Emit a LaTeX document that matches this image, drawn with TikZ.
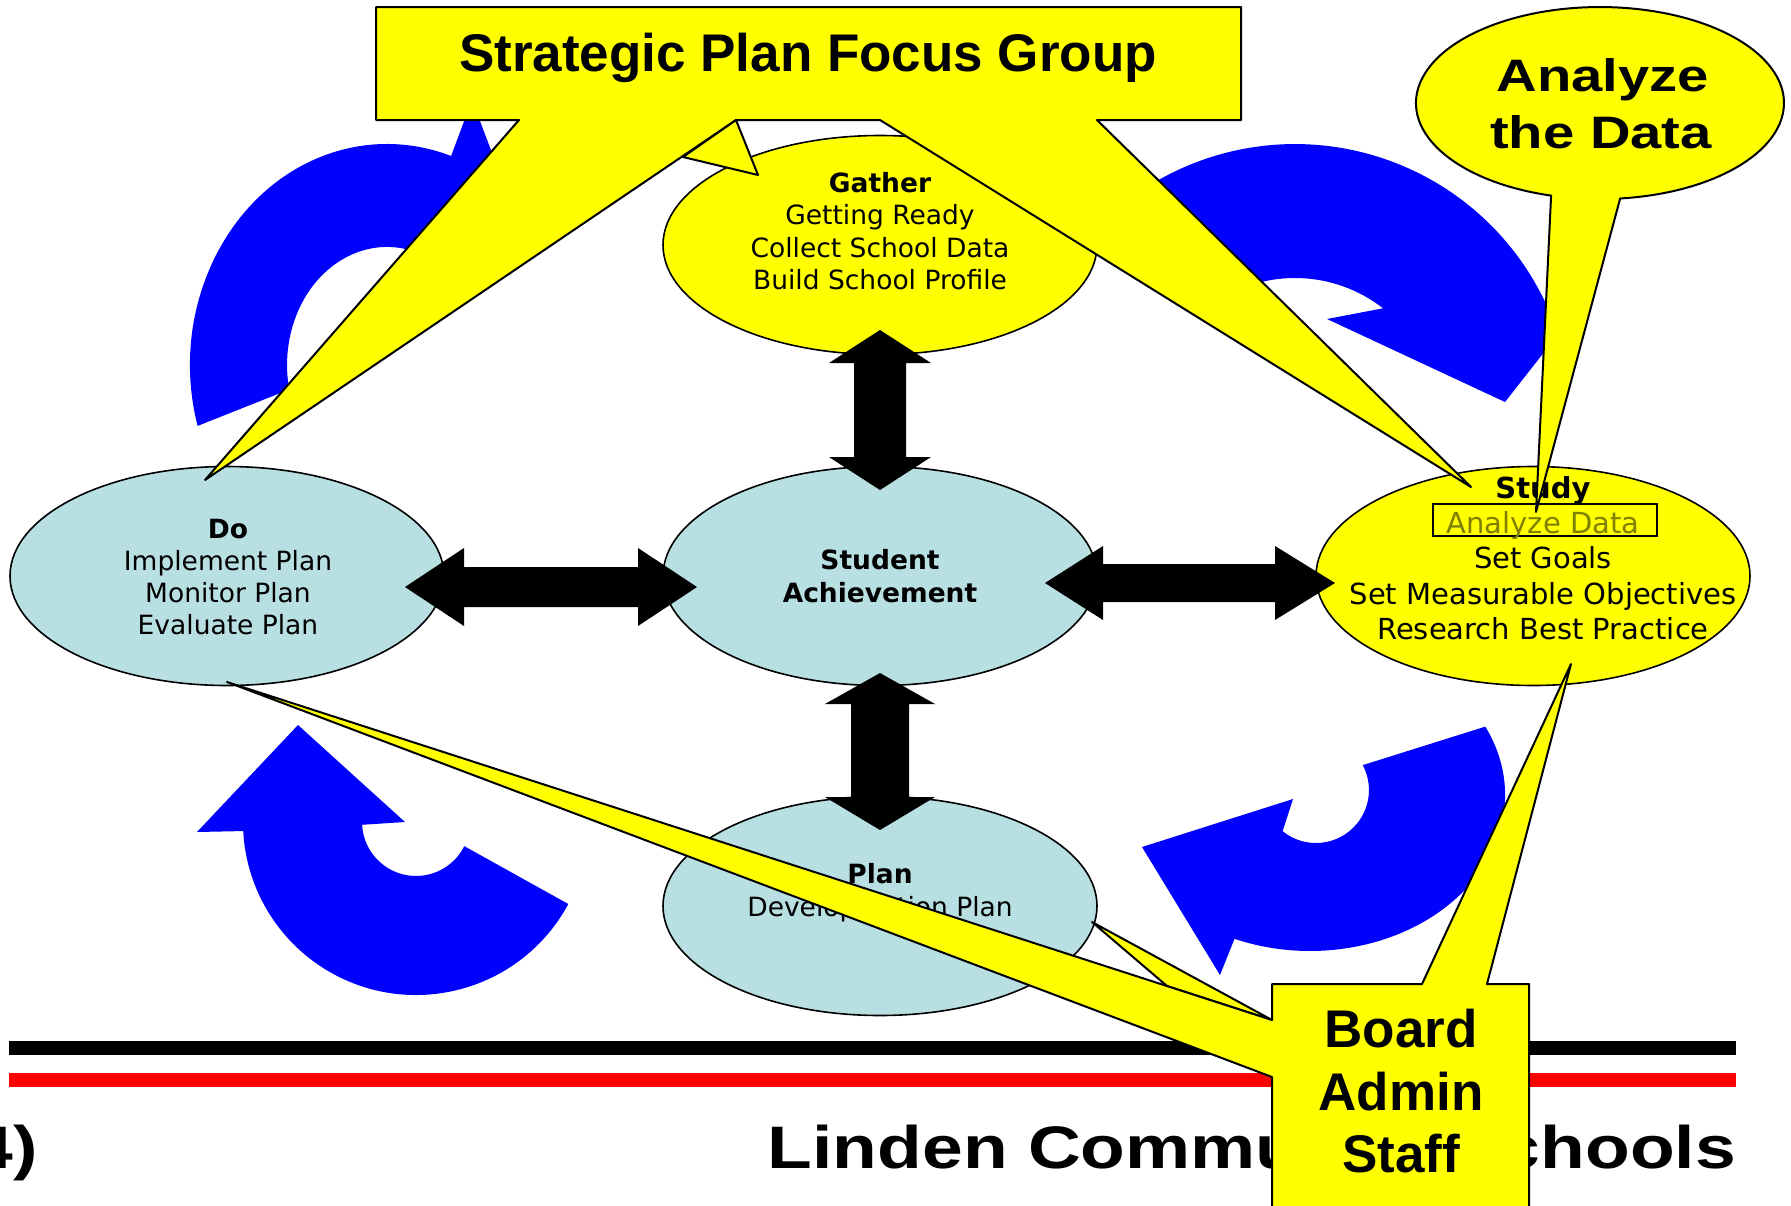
\documentclass[tikz,border=0pt]{standalone}
\usepackage{fontspec}
\setmainfont{DejaVu Sans}
\newfontfamily\libsans{Liberation Sans}
\usetikzlibrary{shapes.geometric}
\definecolor{paleblue}{RGB}{184,223,226}
\definecolor{arrowblue}{RGB}{0,0,255}
\definecolor{callyellow}{RGB}{255,255,0}
\definecolor{olivetxt}{RGB}{128,128,0}
\definecolor{linered}{RGB}{255,0,0}
\begin{document}
\begin{tikzpicture}[x=1pt,y=-1pt,
  ell/.style={ellipse,draw=black,line width=1.6pt,minimum width=434pt,minimum height=219pt,inner sep=0pt},
  txt/.style={anchor=base,inner sep=0pt,font=\fontsize{26.5}{30}\selectfont},
  txtb/.style={anchor=base,inner sep=0pt,font=\fontsize{26.5}{30}\selectfont\bfseries},
  stxt/.style={anchor=base,inner sep=0pt,font=\fontsize{29}{33}\selectfont},
  stxtb/.style={anchor=base,inner sep=0pt,font=\fontsize{29}{33}\selectfont\bfseries},
  bigb/.style={anchor=base,inner sep=0pt,font=\libsans\bfseries\fontsize{53}{60}\selectfont},
  anb/.style={anchor=base,inner sep=0pt,font=\libsans\bfseries\fontsize{45.5}{52}\selectfont},
  footb/.style={anchor=base east,inner sep=0pt,font=\libsans\bfseries\fontsize{60}{66}\selectfont},
  callout/.style={fill=callyellow,draw=black,line width=2pt,line join=round},
  dblarrow/.style={fill=black},
  bluearrow/.style={fill=arrowblue}]
\useasboundingbox (0,0) rectangle (1791,1205);
\fill[white] (0,0) rectangle (1791,1205);
\clip (0,0) rectangle (1791,1205);

% bottom rules and footer
\fill[black] (9,1041) rectangle (1736,1055);
\fill[linered] (9,1073) rectangle (1736,1087);
\node[footb] (footer) at (1736,1168) {\scalebox{1.22}[1]{Linden Community Schools}};
\node[footb] (slideno) at (38,1168) {\scalebox{1.22}[1]{4)}};

% blue circular arrows
\fill[bluearrow] (197.6,425.9) arc[start angle=164, end angle=289, x radius=197, y radius=221]
  -- (472,100) -- (522,232) -- (405,300) -- (419.6,253.4)
  arc[start angle=289, end angle=168, x radius=100, y radius=118] -- cycle;
\fill[bluearrow] (1140.1,191.4) arc[start angle=236, end angle=336, radius=277]
  -- (1585,300) -- (1505,402) -- (1327,319) -- (1383.0,308.3)
  arc[start angle=308, end angle=236, radius=143] -- cycle;
\fill[bluearrow] (1485.3,726.6) arc[start angle=-26, end angle=112.8, x radius=195, y radius=156]
  -- (1220,975) -- (1142,847) -- (1293,799) -- (1282.6,831.2)
  arc[start angle=129, end angle=-28, radius=53] -- cycle;
\fill[bluearrow] (568.3,904.0) arc[start angle=28.3, end angle=177, radius=173]
  -- (197,832) -- (298,725) -- (405,822) -- (362.1,824.8)
  arc[start angle=177, end angle=26.6, radius=54] -- cycle;

% ellipses
\node[ell, fill=paleblue] (doo) at (227,576) {};
\node[ell, fill=callyellow] (gather) at (880,245) {};
\node[ell, fill=paleblue] (student) at (880,576) {};
\node[ell, fill=paleblue] (plan) at (880,906) {};
\node[ell, fill=callyellow] (study) at (1533,576) {};

% black double arrows
\fill[dblarrow] (880,330) -- (931,363) -- (906,363) -- (906,457) -- (931,457) -- (880,490)
  -- (829,457) -- (854,457) -- (854,363) -- (829,363) -- cycle;
\fill[dblarrow] (880,673) -- (935,704) -- (909,704) -- (909,797) -- (935,797) -- (880,830)
  -- (825,797) -- (851,797) -- (851,704) -- (825,704) -- cycle;
\fill[dblarrow] (405,587) -- (464,548) -- (464,567) -- (638,567) -- (638,548) -- (697,587)
  -- (638,626) -- (638,607) -- (464,607) -- (464,626) -- cycle;
\fill[dblarrow] (1045,583) -- (1103,546) -- (1103,564) -- (1275,564) -- (1275,546) -- (1335,583)
  -- (1275,620) -- (1275,602) -- (1103,602) -- (1103,620) -- cycle;

% ellipse texts
\node[txtb] (g1) at (880,192) {Gather};
\node[txt] (g2) at (880,224) {Getting Ready};
\node[txt] (g3) at (880,257) {Collect School Data};
\node[txt] (g4) at (880,289) {Build School Profile};

\node[txtb] (d1) at (228,538) {Do};
\node[txt] (d2) at (228,570) {Implement Plan};
\node[txt] (d3) at (228,602) {Monitor Plan};
\node[txt] (d4) at (228,634) {Evaluate Plan};

\node[txtb] (s1) at (880,569) {Student};
\node[txtb] (s2) at (880,602) {Achievement};

\node[txtb] (p1) at (880,883) {Plan};
\node[txt] (p2) at (880,916) {Develop Action Plan};

\node[draw=black, line width=1.6pt, minimum width=224pt, minimum height=32pt, inner sep=0pt] (adbox) at (1545,520) {};
\node[stxtb] (t1) at (1543,498) {Study};
\node[stxt, text=olivetxt] (t2) at (1543,533) {Analyze Data};
\node[stxt] (t3) at (1543,568) {Set Goals};
\node[stxt] (t4) at (1543,604) {Set Measurable Objectives};
\node[stxt] (t5) at (1543,639) {Research Best Practice};

% top callout
\path[callout] (376,7) -- (1241,7) -- (1241,120) -- (1097,120) -- (1471,487) -- (880,120)
  -- (736,120) -- (205,480) -- (519,120) -- (376,120) -- cycle;
\path[callout] (736,120) -- (758,175) -- (683,157) -- cycle;
\node[bigb] (spfg) at (808,71) {Strategic Plan Focus Group};

% analyze callout
\path[callout] (1551.1,195.6) arc[start angle=105.4, end angle=443.7, x radius=184, y radius=96]
  -- (1536,512) -- cycle;
\node[anb] (an1) at (1603,91) {\scalebox{1.235}[1]{Analyze}};
\node[anb] (an2) at (1601,148) {\scalebox{1.235}[1]{the Data}};

% board callout
\path[callout] (1092,922) -- (1272,1020) -- (1167,986) -- cycle;
\path[callout] (1272,984) -- (1422,984) -- (1571,664) -- (1487,984) -- (1529,984) -- (1529,1215)
  -- (1272,1215) -- (1272,1077) -- (227,682) -- (1272,1020) -- cycle;
\node[bigb] (b1) at (1401,1047) {Board};
\node[bigb] (b2) at (1401,1110) {Admin};
\node[bigb] (b3) at (1401,1172) {Staff};
\end{tikzpicture}
\end{document}
